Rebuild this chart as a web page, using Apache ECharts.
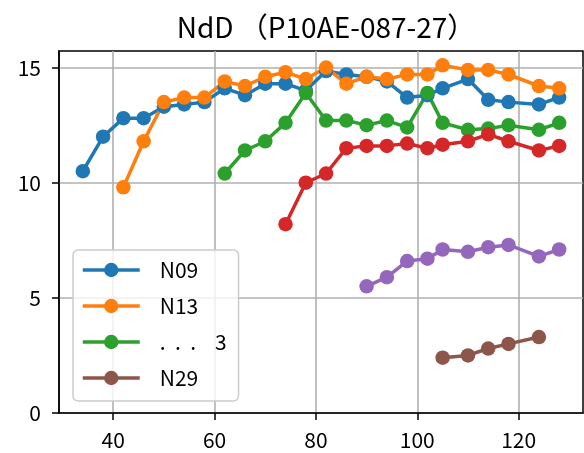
<!DOCTYPE html>
<html>
<head>
<meta charset="utf-8">
<script src="https://cdn.jsdelivr.net/npm/echarts@6/dist/echarts.min.js"></script>
<style>
  html, body { margin: 0; padding: 0; background: #fff; }
  #chart { width: 584px; height: 453px; }
</style>
</head>
<body>
<div id="chart"></div>
<script>
// values
var n09X = [34, 38, 42, 46, 50, 54, 58, 62, 66, 70, 74, 78, 82, 86, 90, 94, 98, 102, 105, 110, 114, 118, 124, 128];
var n09Y = [10.5, 12.0, 12.8, 12.8, 13.3, 13.4, 13.5, 14.1, 13.8, 14.3, 14.3, 14.0, 14.85, 14.7, 14.6, 14.4, 13.7, 13.8, 14.1, 14.5, 13.6, 13.5, 13.4, 13.7];

var n13X = [42, 46, 50, 54, 58, 62, 66, 70, 74, 78, 82, 86, 90, 94, 98, 102, 105, 110, 114, 118, 124, 128];
var n13Y = [9.8, 11.8, 13.5, 13.7, 13.7, 14.4, 14.2, 14.6, 14.8, 14.5, 15.0, 14.3, 14.6, 14.5, 14.7, 14.7, 15.1, 14.9, 14.9, 14.7, 14.2, 14.1];

var dotsX = [62, 66, 70, 74, 78, 82, 86, 90, 94, 98, 102, 105, 110, 114, 118, 124, 128];
var dotsY = [10.4, 11.4, 11.8, 12.6, 13.9, 12.7, 12.7, 12.5, 12.7, 12.4, 13.9, 12.6, 12.3, 12.35, 12.5, 12.3, 12.6];

var redX = [74, 78, 82, 86, 90, 94, 98, 102, 105, 110, 114, 118, 124, 128];
var redY = [8.2, 10.0, 10.4, 11.5, 11.6, 11.6, 11.7, 11.5, 11.65, 11.8, 12.1, 11.8, 11.4, 11.6];

var purpleX = [90, 94, 98, 102, 105, 110, 114, 118, 124, 128];
var purpleY = [5.5, 5.9, 6.6, 6.7, 7.1, 7.0, 7.2, 7.3, 6.8, 7.1];

var n29X = [105, 110, 114, 118, 124];
var n29Y = [2.4, 2.5, 2.8, 3.0, 3.3];

var xTicks = [40, 60, 80, 100, 120];
var yTicks = [0, 5, 10, 15];

var font = '"Noto Sans CJK JP", "Noto Sans", sans-serif';

function pairs(xs, ys) {
    var out = [];
    xs.forEach(function (x, i) {
        out.push([x, ys[i]]);
    });
    return out;
}

function line(name, color, xs, ys) {
    return {
        name: name,
        type: 'line',
        data: pairs(xs, ys),
        symbol: 'circle',
        symbolSize: 14.5,
        color: color,
        lineStyle: { width: 3.5, color: color },
        itemStyle: { color: color },
        animation: false
    };
}

var myChart = echarts.init(document.getElementById('chart'));
myChart.setOption({
    backgroundColor: '#fff',
    textStyle: { fontFamily: font },
    title: {
        text: 'NdD （P10AE-087-27）',
        left: 321,
        textAlign: 'center',
        top: 8,
        textStyle: { fontFamily: font, fontSize: 28, fontWeight: 'normal', color: '#000' }
    },
    legend: {
        orient: 'vertical',
        left: 73,
        top: 250,
        data: ['N09', 'N13', '.  .  .    3', 'N29'],
        itemWidth: 57,
        itemHeight: 18,
        itemGap: 14,
        padding: [9, 12, 12, 8],
        borderColor: '#cccccc',
        borderWidth: 1.5,
        borderRadius: 5,
        backgroundColor: 'rgba(255,255,255,0.8)',
        lineStyle: { width: 3.5 },
        textStyle: { fontFamily: font, fontSize: 21, color: '#000', lineHeight: 22, padding: [0, 0, 0, 15] }
    },
    grid: {
        left: 59,
        right: 1,
        top: 51,
        bottom: 40,
        show: true,
        borderColor: '#000',
        borderWidth: 1.5,
        outerBoundsMode: 'none'
    },
    xAxis: {
        type: 'value',
        min: 29.3,
        max: 132.7,
        axisLine: { show: true, lineStyle: { color: '#000', width: 1.5 } },
        axisTick: { show: true, inside: false, length: 7, customValues: xTicks, lineStyle: { color: '#000', width: 1.5 } },
        axisLabel: { customValues: xTicks, fontFamily: font, fontSize: 21, color: '#000', margin: 17 },
        splitLine: { show: true, lineStyle: { color: '#b0b0b0', width: 1.6 } }
    },
    yAxis: {
        type: 'value',
        min: 0,
        max: 15.72,
        axisLine: { show: true, lineStyle: { color: '#000', width: 1.5 } },
        axisTick: { show: true, inside: false, length: 7, customValues: yTicks, lineStyle: { color: '#000', width: 1.5 } },
        axisLabel: { customValues: yTicks, fontFamily: font, fontSize: 21, color: '#000', margin: 18 },
        splitLine: { show: true, lineStyle: { color: '#b0b0b0', width: 1.6 } }
    },
    series: [
        line('N09', '#1f77b4', n09X, n09Y),
        line('N13', '#ff7f0e', n13X, n13Y),
        line('.  .  .    3', '#2ca02c', dotsX, dotsY),
        line('N17', '#d62728', redX, redY),
        line('N21', '#9467bd', purpleX, purpleY),
        line('N29', '#8c564b', n29X, n29Y)
    ]
});
</script>
</body>
</html>
